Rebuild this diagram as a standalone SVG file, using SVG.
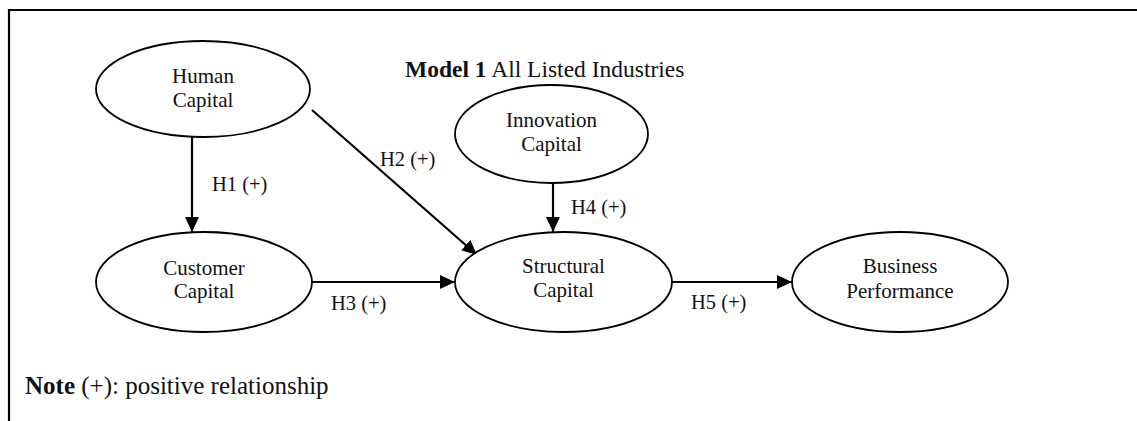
<svg xmlns="http://www.w3.org/2000/svg" width="1137" height="421" viewBox="0 0 1137 421">
<style>
.frame{stroke:#000;stroke-width:2.2;fill:none}
.node ellipse{fill:#fff;stroke:#000;stroke-width:1.8}
text{font-family:"Liberation Serif","Times New Roman",serif;fill:#111}
.nt{font-size:21px;text-anchor:middle}
.lbl{font-size:20.5px}
.title{font-size:23.5px}
.note{font-size:25px}
.edge{stroke:#000;stroke-width:2.2;fill:none;marker-end:url(#arr)}
</style>
<defs>
<marker id="arr" markerUnits="userSpaceOnUse" markerWidth="16" markerHeight="15" refX="15" refY="7" orient="auto" viewBox="0 0 16 15">
<path d="M0,0 L15,7 L0,14 z" fill="#000"/>
</marker>
</defs>
<rect width="1137" height="421" fill="#fff"/>
<path class="frame" d="M9,421 V10 H1137"/>
<text class="title" x="405" y="77"><tspan font-weight="bold">Model 1</tspan> All Listed Industries</text>
<g id="connectors">
<line class="edge" x1="192" y1="137" x2="192" y2="232"/>
<line class="edge" x1="312" y1="110" x2="477" y2="255"/>
<line class="edge" x1="553" y1="183" x2="553" y2="232"/>
<line class="edge" x1="312" y1="282" x2="455" y2="282"/>
<line class="edge" x1="672" y1="282" x2="792" y2="282"/>
<text class="lbl" x="212" y="191">H1 (+)</text>
<text class="lbl" x="380" y="166">H2 (+)</text>
<text class="lbl" x="571" y="214">H4 (+)</text>
<text class="lbl" x="331" y="310">H3 (+)</text>
<text class="lbl" x="691" y="309">H5 (+)</text>
</g>
<g id="human" class="node">
<ellipse cx="203" cy="89" rx="107" ry="48"/>
<text class="nt" x="203" y="83">Human</text>
<text class="nt" x="203" y="107">Capital</text>
</g>
<g id="innovation" class="node">
<ellipse cx="551.5" cy="134" rx="96.5" ry="49"/>
<text class="nt" x="551.5" y="127">Innovation</text>
<text class="nt" x="551.5" y="151">Capital</text>
</g>
<g id="customer" class="node">
<ellipse cx="204" cy="282" rx="108" ry="50"/>
<text class="nt" x="204" y="275">Customer</text>
<text class="nt" x="204" y="298">Capital</text>
</g>
<g id="structural" class="node">
<ellipse cx="563.5" cy="282" rx="108.5" ry="50"/>
<text class="nt" x="563.5" y="273">Structural</text>
<text class="nt" x="563.5" y="297">Capital</text>
</g>
<g id="business" class="node">
<ellipse cx="900" cy="282" rx="108" ry="50"/>
<text class="nt" x="900" y="273">Business</text>
<text class="nt" x="900" y="298">Performance</text>
</g>
<text class="note" x="25" y="394"><tspan font-weight="bold">Note</tspan> (+): positive relationship</text>
</svg>
